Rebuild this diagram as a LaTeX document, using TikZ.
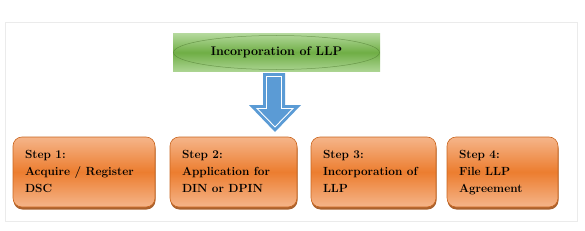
\documentclass[tikz,border=0pt]{standalone}
\usetikzlibrary{shadows,shapes.geometric}
\definecolor{ormid}{HTML}{EC7D2F}
\definecolor{orlight}{HTML}{F5B58A}
\definecolor{orborder}{HTML}{C9651E}
\definecolor{grdark}{HTML}{6FAE45}
\definecolor{grlight}{HTML}{B2D89A}
\definecolor{arblue}{HTML}{5B9BD5}
\begin{document}
\begin{tikzpicture}[x=1pt,y=-1pt,
  stepbox/.style={draw=orborder, line width=0.6pt, rounded corners=9pt,
    top color=orlight, bottom color=orlight, middle color=ormid,
    minimum height=70pt, align=flush left, inner xsep=12pt,
    font=\fontsize{11.8}{17}\selectfont\bfseries,
    execute at begin node=\strut, execute at end node=\strut,
    drop shadow={shadow xshift=0.5pt, shadow yshift=-2.5pt, fill=orborder!80!black, opacity=0.9}},
  titlebox/.style={top color=grlight, bottom color=grlight!90!grdark, middle color=grdark,
    minimum width=207pt, minimum height=37pt, inner sep=0pt}]
\useasboundingbox (0,0) rectangle (585,230);
\draw[black!8, line width=0.8pt] (5,22) rectangle (577,221);
% title
\node[titlebox] (title) at (276.5,52.5) {};
\draw[grdark!70!black, line width=0.5pt, opacity=0.6] (title.center) ellipse [x radius=103pt, y radius=17pt];
\node[font=\fontsize{12.5}{16}\selectfont\bfseries] (titletext) at (title.center) {Incorporation of LLP};
% arrow
\coordinate (atip) at (275,132);
\fill[arblue] (263,73) -- (285,73) -- (285,105) -- (301,105) -- (atip) -- (249,105) -- (263,105) -- cycle;
\draw[white, line width=0.9pt, line join=miter] (266.5,76.5) -- (281.5,76.5) -- (281.5,108.5) -- (293,108.5) -- (275,127) -- (257,108.5) -- (266.5,108.5) -- cycle;
% boxes
\node[stepbox, text width=118pt] (s1) at (84,172) {Step 1:\\Acquire / Register\\DSC};
\node[stepbox, text width=103pt] (s2) at (233.5,172) {Step 2:\\Application for\\DIN or DPIN};
\node[stepbox, text width=101pt] (s3) at (373.5,172) {Step 3:\\Incorporation of\\LLP};
\node[stepbox, text width=87pt] (s4) at (502.5,172) {Step 4:\\File LLP\\Agreement};
\end{tikzpicture}
\end{document}
